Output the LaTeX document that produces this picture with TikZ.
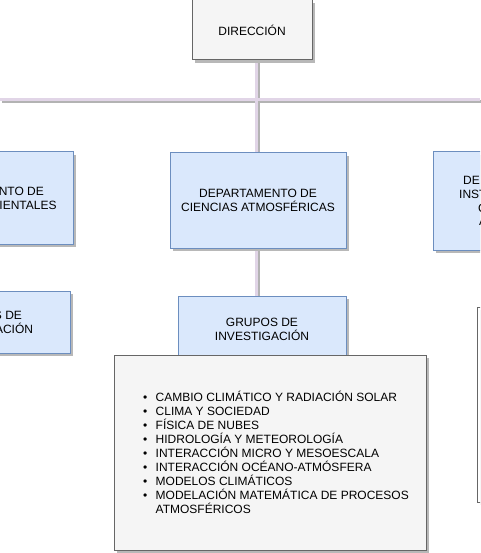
\documentclass[tikz,border=0pt]{standalone}
\usepackage{fontspec}
\setmainfont{Liberation Sans}
\usetikzlibrary{shadows}
\definecolor{blfill}{HTML}{DAE8FC}
\definecolor{bldraw}{HTML}{6C8EBF}
\definecolor{gyfill}{HTML}{F5F5F5}
\definecolor{gydraw}{HTML}{666666}
\definecolor{shadowc}{HTML}{B8B8B8}
\definecolor{linec}{HTML}{E1D5E7}
\definecolor{lineshadow}{HTML}{B3B3B3}
\pgfdeclarelayer{bg}
\pgfsetlayers{bg,main}
\newcommand{\bitem}[1]{\makebox[12.5pt][l]{\textbullet}#1}
\begin{document}
\begin{tikzpicture}[x=1pt,y=-1pt,
  every node/.style={font=\fontsize{12}{14}\selectfont, inner sep=0pt},
  boxshadow/.style={drop shadow={shadow xshift=3pt, shadow yshift=-3pt, fill=shadowc, opacity=1}},
  bluebox/.style={draw=bldraw, fill=blfill, line width=1pt, boxshadow, align=center},
  graybox/.style={draw=gydraw, fill=gyfill, line width=1pt, boxshadow, align=center},
  whitebox/.style={draw=gydraw, fill=white, line width=1pt, boxshadow},
  conn/.style={draw=linec, line width=3pt},
  connshadow/.style={draw=lineshadow, line width=3pt, transform canvas={shift={(1.5pt,-1.5pt)}}}]
\useasboundingbox (0,0) rectangle (480,553);
\clip (0,0) rectangle (480,553);

\node[graybox, minimum width=120, minimum height=60] (dir) at (252,30) {DIRECCIÓN};

\node[bluebox, minimum width=176, minimum height=92] (deptL) at (-15,198) {DEPARTAMENTO DE\\CIENCIAS AMBIENTALES};
\node[bluebox, minimum width=176, minimum height=95] (deptC) at (258,200.5) {DEPARTAMENTO DE\\CIENCIAS ATMOSFÉRICAS};
\node[bluebox, minimum width=176, minimum height=98] (deptR) at (521,201) {};
\node[anchor=base west] (rt1) at (463,185) {DE};
\node[anchor=base west] (rt2) at (459,198.5) {INST};
\node[anchor=base west] (rt3) at (478,212) {C};
\node[anchor=base west] (rt4) at (479,225.5) {A};

\node[bluebox, minimum width=168, minimum height=62] (grpL) at (-14,322) {GRUPOS DE\\INVESTIGACIÓN};
\node[bluebox, minimum width=168, minimum height=66] (grpC) at (262,329) {GRUPOS DE\\INVESTIGACIÓN};

\node[graybox, minimum width=312, minimum height=195] (list) at (270,452.5) {};
\node[anchor=north west, align=left] (items) at (143,391.3) {%
\rule{0pt}{10pt}\bitem{CAMBIO CLIMÁTICO Y RADIACIÓN SOLAR}\\
\bitem{CLIMA Y SOCIEDAD}\\
\bitem{FÍSICA DE NUBES}\\
\bitem{HIDROLOGÍA Y METEOROLOGÍA}\\
\bitem{INTERACCIÓN MICRO Y MESOESCALA}\\
\bitem{INTERACCIÓN OCÉANO-ATMÓSFERA}\\
\bitem{MODELOS CLIMÁTICOS}\\
\bitem{MODELACIÓN MATEMÁTICA DE PROCESOS}\\
\hspace*{12.5pt}ATMOSFÉRICOS};

\node[whitebox, minimum width=312, minimum height=195] (listR) at (633,404.5) {};

\coordinate (busL) at (0,100);
\coordinate (busR) at (480,100);
\coordinate (jx) at (256.5,100);
\begin{pgfonlayer}{bg}
\draw[connshadow] (busL) -- (busR);
\draw[connshadow] (dir.south -| jx) -- (deptC.north -| jx);
\draw[connshadow] (deptC.south -| jx) -- (grpC.north -| jx);
\draw[conn] (busL) -- (busR);
\draw[conn] (dir.south -| jx) -- (deptC.north -| jx);
\draw[conn] (deptC.south -| jx) -- (grpC.north -| jx);
\end{pgfonlayer}
\end{tikzpicture}
\end{document}
